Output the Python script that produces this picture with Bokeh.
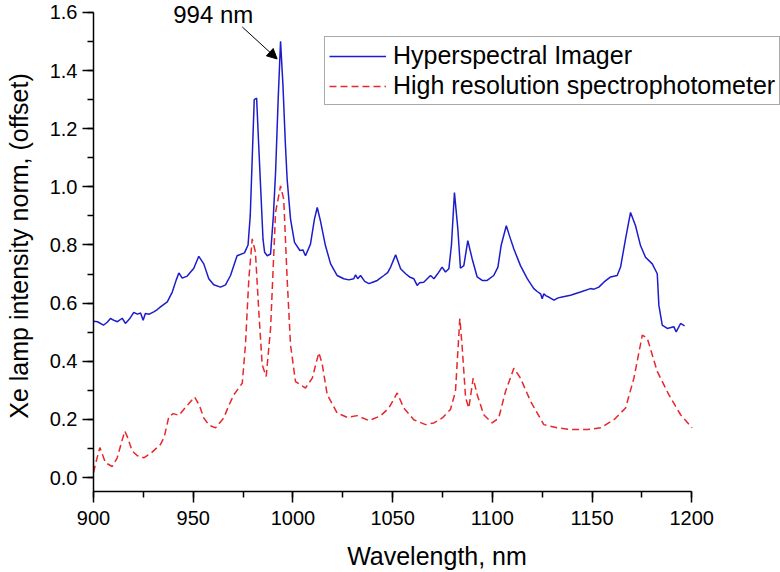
from bokeh.plotting import figure
from bokeh.models import (Range1d, SingleIntervalTicker, NumeralTickFormatter, Legend, LegendItem,
                          Arrow, NormalHead, Label)
from bokeh.embed import file_html
from bokeh.resources import INLINE

# Hyperspectral Imager (offset)
hsi_wl = [900.0, 902.0, 905.0, 907.0, 908.5, 910.5, 912.0, 914.4, 916.0, 918.0, 920.2, 922.0, 923.6,
          924.9, 926.0, 928.0, 930.2, 932.0, 933.6, 937.0, 939.5, 941.5, 942.8, 944.5, 947.0, 950.3,
          952.8, 955.3, 957.8, 960.3, 963.7, 966.2, 968.7, 972.0, 975.7, 977.5, 978.6, 979.6, 980.6,
          981.8, 982.8, 983.8, 985.0, 985.8, 987.1, 988.8, 990.2, 991.3, 992.6, 993.8, 995.0, 996.2,
          997.1, 998.8, 1000.8, 1003.5, 1005.0, 1006.3, 1008.8, 1010.8, 1012.2, 1013.8, 1016.3, 1018.9,
          1022.2, 1025.5, 1028.0, 1030.5, 1031.4, 1032.5, 1033.9, 1036.0, 1038.1, 1040.0, 1042.3,
          1045.6, 1047.5, 1049.0, 1051.5, 1054.0, 1056.5, 1058.5, 1060.6, 1062.3, 1063.5, 1065.6,
          1069.0, 1070.7, 1072.5, 1074.8, 1076.5, 1078.2, 1079.5, 1081.0, 1082.7, 1084.0, 1085.7,
          1087.7, 1089.9, 1092.4, 1094.9, 1097.4, 1100.7, 1102.8, 1104.4, 1107.0, 1109.1, 1110.8,
          1114.1, 1117.5, 1120.8, 1122.5, 1124.2, 1125.0, 1125.8, 1127.0, 1128.3, 1130.9, 1133.0,
          1135.0, 1139.2, 1144.2, 1149.2, 1151.0, 1153.4, 1155.9, 1159.3, 1162.6, 1164.3, 1166.8,
          1169.3, 1171.8, 1174.3, 1176.8, 1180.2, 1182.7, 1183.5, 1185.2, 1187.7, 1191.0, 1192.2,
          1194.4, 1196.4]
hsi_val = [0.538, 0.536, 0.524, 0.535, 0.547, 0.540, 0.536, 0.548, 0.530, 0.545, 0.568, 0.562, 0.566,
           0.541, 0.564, 0.562, 0.570, 0.578, 0.587, 0.604, 0.638, 0.680, 0.704, 0.686, 0.693, 0.720,
           0.761, 0.735, 0.684, 0.663, 0.655, 0.663, 0.695, 0.763, 0.773, 0.800, 0.900, 1.100, 1.300,
           1.305, 1.150, 1.000, 0.820, 0.775, 0.763, 0.769, 0.900, 1.050, 1.300, 1.501, 1.350, 1.150,
           1.026, 0.889, 0.809, 0.781, 0.783, 0.763, 0.803, 0.889, 0.929, 0.883, 0.798, 0.735,
           0.695, 0.684, 0.680, 0.684, 0.697, 0.684, 0.695, 0.675, 0.667, 0.672, 0.678,
           0.695, 0.705, 0.724, 0.766, 0.718, 0.701, 0.690, 0.684, 0.661, 0.670, 0.672,
           0.695, 0.684, 0.700, 0.724, 0.707, 0.718, 0.800, 0.980, 0.855, 0.720, 0.729,
           0.815, 0.752, 0.690, 0.678, 0.678, 0.695, 0.724, 0.798, 0.866, 0.821, 0.786,
           0.729, 0.684, 0.650, 0.640, 0.632, 0.615, 0.632, 0.625, 0.621, 0.610, 0.618,
           0.621, 0.627, 0.638, 0.650, 0.648, 0.655, 0.672, 0.690, 0.695, 0.724, 0.821,
           0.912, 0.866, 0.798, 0.758, 0.735, 0.701, 0.593, 0.524, 0.513, 0.519, 0.501,
           0.530, 0.522]

# High resolution spectrophotometer
hrs_wl = [900.0, 901.5, 903.2, 906.0, 909.4, 911.9, 914.0, 915.7, 917.0, 919.4, 922.0, 925.2, 929.0,
          933.6, 935.5, 937.8, 940.0, 942.8, 946.0, 950.7, 953.0, 955.3, 958.0, 961.2, 965.3, 968.0,
          970.4, 974.6, 976.2, 977.9, 979.6, 981.2, 982.9, 984.6, 986.6, 988.8, 991.3, 993.8, 995.4,
          997.1, 998.8, 1001.3, 1006.3, 1009.7, 1013.0, 1014.7, 1017.2, 1022.2, 1027.2, 1032.2,
          1038.1, 1043.9, 1048.1, 1052.3, 1055.6, 1060.6, 1066.5, 1070.7, 1074.9, 1079.0, 1081.5,
          1083.7, 1084.8, 1086.6, 1088.2, 1090.4, 1092.4, 1095.7, 1099.9, 1103.2, 1106.6, 1110.8,
          1114.1, 1119.2, 1125.8, 1132.5, 1139.2, 1147.6, 1154.3, 1161.0, 1166.8, 1171.0, 1175.2,
          1177.7, 1182.7, 1188.5, 1194.4, 1200.2]
hrs_val = [0.017, 0.060, 0.103, 0.051, 0.038, 0.068, 0.120, 0.160, 0.140, 0.091, 0.075, 0.068, 0.085,
           0.114, 0.140, 0.210, 0.220, 0.214, 0.240, 0.277, 0.250, 0.205, 0.180, 0.171, 0.205, 0.250,
           0.285, 0.325, 0.456, 0.684, 0.821, 0.775, 0.570, 0.387, 0.348, 0.513, 0.912, 1.003, 0.957,
           0.684, 0.456, 0.330, 0.308, 0.342, 0.430, 0.390, 0.285, 0.222, 0.207, 0.213,
           0.196, 0.212, 0.239, 0.291, 0.239, 0.199, 0.182, 0.188, 0.205, 0.234, 0.296,
           0.547, 0.456, 0.274, 0.239, 0.342, 0.285, 0.216, 0.188, 0.205, 0.296, 0.376,
           0.342, 0.262, 0.182, 0.171, 0.165, 0.165, 0.171, 0.199, 0.239, 0.342, 0.490,
           0.479, 0.365, 0.285, 0.216, 0.171]

series_names = ["Hyperspectral Imager", "High resolution spectrophotometer"]
annot_text = "994 nm"
annot_pos = (940.0, 1.592)
arrow_from = (974.6, 1.550)
arrow_to = (992.1, 1.440)

FONT = "Liberation Sans"

p = figure(width=780, height=572, output_backend="svg", toolbar_location=None,
           x_range=Range1d(900, 1244.5), y_range=Range1d(-0.048, 1.641),
           min_border_left=93, min_border_right=0, min_border_top=0, min_border_bottom=78)
p.background_fill_color = "white"
p.border_fill_color = "white"
p.outline_line_color = None
p.grid.visible = False

r1 = p.line(hsi_wl, hsi_val, line_color="#1c1ccc", line_width=1.5)
r2 = p.line(hrs_wl, hrs_val, line_color="#e8262b", line_width=1.5, line_dash="7 4")

for ax in (p.xaxis[0], p.yaxis[0]):
    ax.axis_line_width = 1.5
    ax.axis_line_color = "black"
    ax.major_tick_line_width = 1.5
    ax.minor_tick_line_width = 1.5
    ax.major_tick_line_color = "black"
    ax.minor_tick_line_color = "black"
    ax.major_tick_in = 0
    ax.minor_tick_in = 0
    ax.major_tick_out = 11
    ax.minor_tick_out = 6
    ax.major_label_text_font = FONT
    ax.major_label_text_font_size = "20px"
    ax.major_label_text_color = "black"
    ax.axis_label_text_font = FONT
    ax.axis_label_text_font_size = "25px"
    ax.axis_label_text_font_style = "normal"
    ax.axis_label_text_color = "black"

p.xaxis[0].major_label_standoff = 8
p.yaxis[0].major_label_standoff = 5
p.xaxis[0].ticker = SingleIntervalTicker(interval=50, num_minor_ticks=2)
p.yaxis[0].ticker = SingleIntervalTicker(interval=0.2, num_minor_ticks=2)
p.yaxis[0].formatter = NumeralTickFormatter(format="0.0")
p.xaxis[0].formatter = NumeralTickFormatter(format="0")
p.xaxis[0].bounds = (900, 1200)
p.yaxis[0].bounds = (-0.048, 1.6)
p.xaxis[0].axis_label = "Wavelength, nm"
p.yaxis[0].axis_label = "Xe lamp intensity norm, (offset)"
p.xaxis[0].axis_label_standoff = 14
p.yaxis[0].axis_label_standoff = 14

legend = Legend(items=[LegendItem(label=series_names[0], renderers=[r1]),
                       LegendItem(label=series_names[1], renderers=[r2])],
                location=(231, 386))
legend.label_text_font = FONT
legend.label_text_font_size = "25px"
legend.label_text_color = "black"
legend.glyph_width = 57
legend.glyph_height = 28
legend.label_height = 28
legend.label_standoff = 7
legend.padding = 4
legend.spacing = 1
legend.margin = 0
legend.border_line_color = "#555555"
legend.border_line_width = 1.5
legend.background_fill_alpha = 1.0
legend.label_width = 380
p.add_layout(legend)

p.add_layout(Arrow(end=NormalHead(size=10, fill_color="black", line_color="black"),
                   x_start=arrow_from[0], y_start=arrow_from[1], x_end=arrow_to[0], y_end=arrow_to[1],
                   line_color="black", line_width=1))
p.add_layout(Label(x=annot_pos[0], y=annot_pos[1], text=annot_text, text_font=FONT,
                   text_font_size="24px", text_color="black", text_baseline="alphabetic"))

open("out.html", "w").write(file_html(p, INLINE))
